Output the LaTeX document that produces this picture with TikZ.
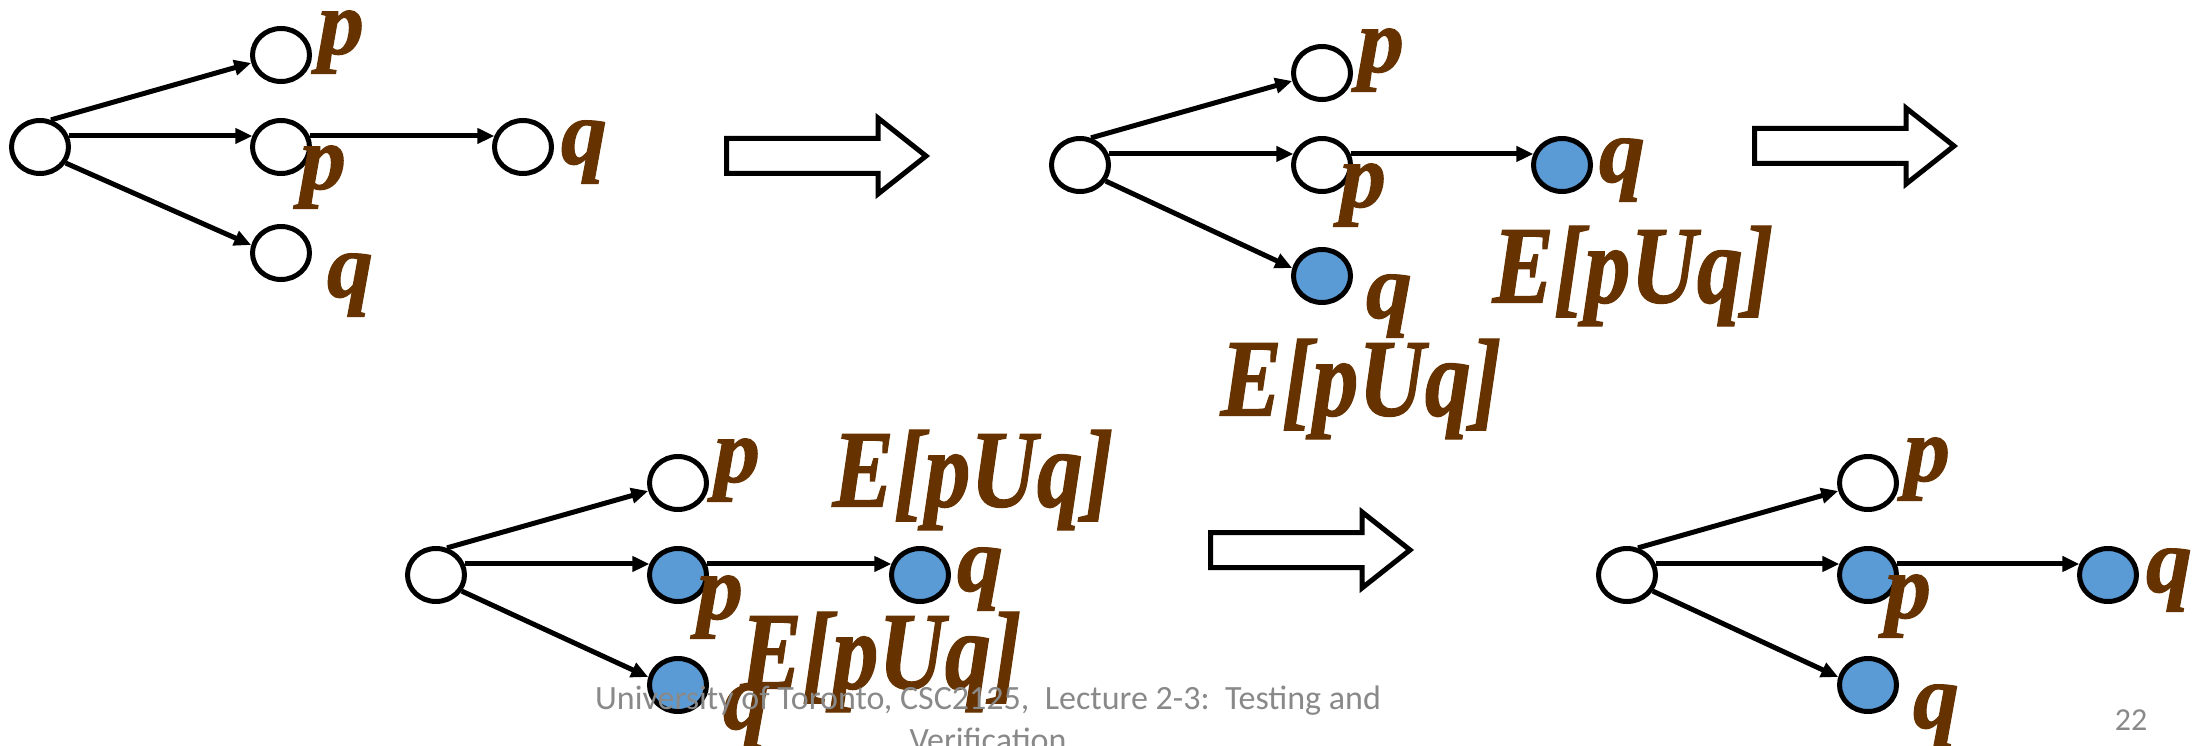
\documentclass[tikz,border=0pt]{standalone}
\usepackage{fontspec}
\setmainfont{Liberation Serif}
\newfontfamily\lblfont{Liberation Serif Bold Italic}[FakeBold=1.2]
\newfontfamily\footfont{Carlito}
\usetikzlibrary{shapes.geometric,arrows.meta}
\definecolor{lblbrown}{RGB}{102,51,0}
\definecolor{stateblue}{RGB}{91,155,213}
\definecolor{footgray}{RGB}{137,137,137}

% formula labels are set a little taller than wide
\newcommand{\tallformula}[1]{\scalebox{1}[1.2]{#1}}

\tikzset{
  state/.style={ellipse, draw=black, line width=5pt, fill=white,
    minimum width=57pt, minimum height=53pt, inner sep=0pt},
  marked/.style={state, fill=stateblue},
  lbl/.style={text=lblbrown, inner sep=0pt,
    font=\lblfont\fontsize{92}{100}\selectfont},
  trans/.style={line width=5pt, -{Triangle[length=17pt,width=15pt]}},
  footer/.style={text=footgray, align=center,
    font=\footfont\fontsize{34}{42}\selectfont},
  pagenum/.style={text=footgray, font=\footfont\fontsize{32}{36}\selectfont},
  bigarrow/.pic={
    \draw[line width=5pt, fill=white, line join=miter]
      (0,-17.5) -- (151.5,-17.5) -- (151.5,-38) -- (199.5,0)
      -- (151.5,38) -- (151.5,17.5) -- (0,17.5) -- cycle;
  }
}

\begin{document}
\begin{tikzpicture}[x=1pt,y=-1pt]
\useasboundingbox (0,0) rectangle (2206,746);

% ---- first model: nothing labelled yet
\node[state] (g1r) at (40,147) {};
\node[state] (g1t) at (281,55) {};
\node[state] (g1m) at (281,147) {};
\node[state] (g1b) at (281,253) {};
\node[state] (g1q) at (523,147) {};
\draw[trans] (g1r.68) -- (g1t.195);
\draw[trans] (g1r.21) -- (g1m.159);
\draw[trans] (g1m.21) -- (g1q.159);
\draw[trans] (g1r.-32) -- (g1b.165);
\node[lbl] (g1lt) at (341,42) {p};
\node[lbl] (g1lm) at (323,177) {p};
\node[lbl] (g1lq) at (584,152) {q};
\node[lbl] (g1lb) at (350,285) {q};

\pic at (726.5,156) {bigarrow};

% ---- second model: q-states marked
\node[state] (g2r) at (1080,165) {};
\node[state] (g2t) at (1322,73) {};
\node[state] (g2m) at (1322,165) {};
\node[marked] (g2b) at (1322,276) {};
\node[marked] (g2q) at (1562,165) {};
\draw[trans] (g2r.68) -- (g2t.195);
\draw[trans] (g2r.21) -- (g2m.159);
\draw[trans] (g2m.21) -- (g2q.159);
\draw[trans] (g2r.-32) -- (g2b.165);
\node[lbl] (g2lt) at (1381,60) {p};
\node[lbl] (g2lm) at (1363,195) {p};
\node[lbl] (g2lq) at (1622,170) {q};
\node[lbl] (g2lb) at (1389,306) {q};
\node[lbl] (g2eq) at (1633,276) {\tallformula{E[pUq]}};
\node[lbl] (g2eb) at (1361,389) {\tallformula{E[pUq]}};

\pic at (1754.5,146) {bigarrow};

% ---- third model: p-predecessor marked
\node[state] (g3r) at (436,575) {};
\node[state] (g3t) at (678,483) {};
\node[marked] (g3m) at (678,575) {};
\node[marked] (g3b) at (678,685) {};
\node[marked] (g3q) at (920,575) {};
\draw[trans] (g3r.68) -- (g3t.195);
\draw[trans] (g3r.21) -- (g3m.159);
\draw[trans] (g3m.21) -- (g3q.159);
\draw[trans] (g3r.-32) -- (g3b.165);
\node[lbl] (g3lt) at (737,470) {p};
\node[lbl] (g3lm) at (720,607) {p};
\node[lbl] (g3lq) at (980,579) {q};
\node[lbl] (g3lb) at (746,717) {q};
\node[lbl] (g3eq) at (973,480) {\tallformula{E[pUq]}};
\node[lbl] (g3em) at (881,662) {\tallformula{E[pUq]}};

\pic at (1210.5,550) {bigarrow};

% ---- fourth model: fixpoint reached
\node[state] (g4r) at (1627,575) {};
\node[state] (g4t) at (1868,483) {};
\node[marked] (g4m) at (1868,575) {};
\node[marked] (g4b) at (1868,685) {};
\node[marked] (g4q) at (2108,575) {};
\draw[trans] (g4r.68) -- (g4t.195);
\draw[trans] (g4r.21) -- (g4m.159);
\draw[trans] (g4m.21) -- (g4q.159);
\draw[trans] (g4r.-32) -- (g4b.165);
\node[lbl] (g4lt) at (1927,469) {p};
\node[lbl] (g4lm) at (1908,606) {p};
\node[lbl] (g4lq) at (2169,580) {q};
\node[lbl] (g4lb) at (1936,716) {q};

% ---- slide footer
\node[footer, anchor=base] (foot) at (988,751)
  {University of Toronto, CSC2125,\ \ Lecture 2-3:\ \ Testing and\\Verification};
\node[pagenum, anchor=base] (pnum) at (2131,730) {22};
\end{tikzpicture}
\end{document}
